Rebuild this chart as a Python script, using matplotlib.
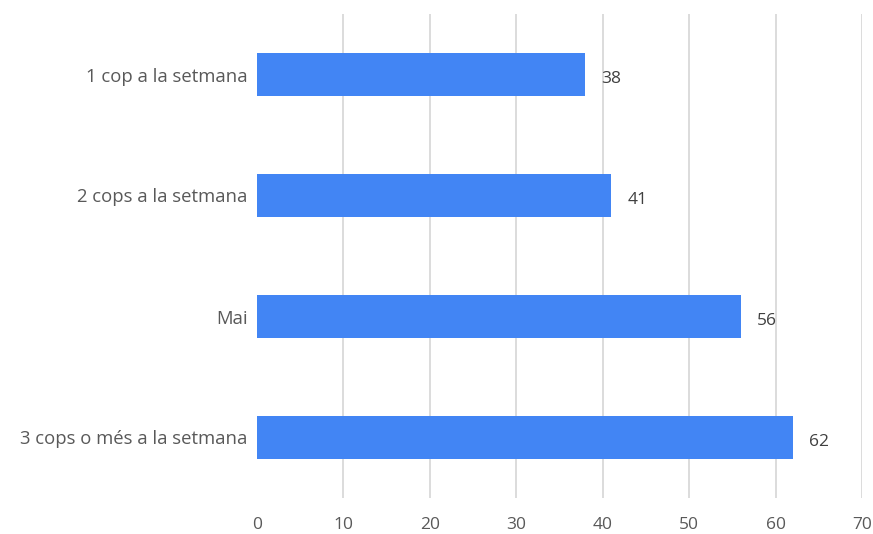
import matplotlib.pyplot as plt

categories = ['1 cop a la setmana', '2 cops a la setmana', 'Mai', '3 cops o més a la setmana']
values = [38, 41, 56, 62]
xticks = [0, 10, 20, 30, 40, 50, 60, 70]

plt.rcParams['font.family'] = ['Open Sans', 'DejaVu Sans']
text_color = '#595959'

fig = plt.figure(figsize=(8.73, 5.34), dpi=100)
ax = fig.add_axes([257 / 873, 36 / 534, 605 / 873, 484 / 534])

ypos = list(range(len(categories)))
ax.barh(ypos, values, height=0.355, color='#4285F4', zorder=3)

# data labels
for y, v in zip(ypos, values):
    ax.text(v + 1.85, y + 0.04, str(v), va='center', ha='left',
            fontsize=12.5, color='#404040')

ax.set_xlim(0, 70)
ax.set_ylim(len(categories) - 0.5, -0.5)
ax.set_yticks(ypos)
ax.set_yticklabels(categories, fontsize=13.3, color=text_color)
ax.set_xticks(xticks)
ax.set_xticklabels([str(t) for t in xticks], fontsize=12.5, color=text_color)

for t in xticks[1:]:
    ax.axvline(t, color='#d9d9d9', lw=1.3, zorder=1)

for s in ax.spines.values():
    s.set_visible(False)
ax.tick_params(axis='both', length=0)
ax.tick_params(axis='y', pad=7)
ax.tick_params(axis='x', pad=14)

fig.savefig('out.png', dpi=100, facecolor='white')
